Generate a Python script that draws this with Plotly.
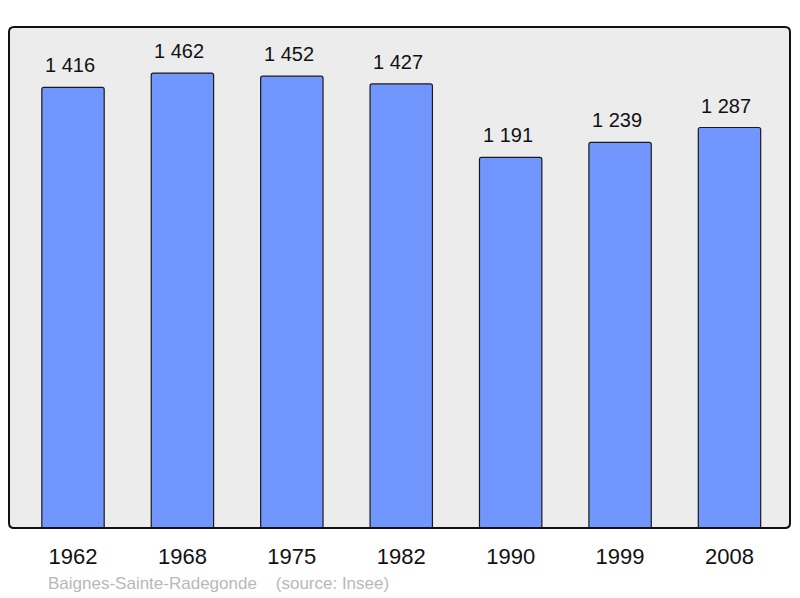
import plotly.graph_objects as go

years = ["1962", "1968", "1975", "1982", "1990", "1999", "2008"]
population = [1416, 1462, 1452, 1427, 1191, 1239, 1287]
labels = ["1 416", "1 462", "1 452", "1 427", "1 191", "1 239", "1 287"]
source_text = "Baignes-Sainte-Radegonde    (source: Insee)"

W, H = 800, 598
L, R, T, B = 9, 10, 27, 70
PW, PH = W - L - R, H - T - B
xpos = list(range(len(years)))

fig = go.Figure()
fig.add_trace(go.Bar(
    x=xpos, y=population, width=0.57,
    marker=dict(color="#7197ff", line=dict(color="#1a1a1a", width=1.2), cornerradius=2),
    hoverinfo="skip",
))
for xi, v, t in zip(xpos, population, labels):
    fig.add_annotation(x=xi, y=v, text=t, showarrow=False, yanchor="bottom",
                       yshift=9, xshift=-3, font=dict(size=20, color="#111111"))

fig.add_annotation(xref="paper", yref="paper", x=(46 - L) / PW, y=-(583 - (H - B)) / PH,
                   xanchor="left", yanchor="middle", text=source_text, showarrow=False,
                   font=dict(size=17, color="#b8b8b8"))

# rounded frame around plot area
rx, ry = 5 / PW, 5 / PH
path = (f"M {rx},0 L {1-rx},0 Q 1,0 1,{ry} L 1,{1-ry} Q 1,1 {1-rx},1 "
        f"L {rx},1 Q 0,1 0,{1-ry} L 0,{ry} Q 0,0 {rx},0 Z")
fig.add_shape(type="path", xref="paper", yref="paper", path=path,
              line=dict(color="#111111", width=2), layer="above")

fig.update_layout(
    width=W, height=H,
    margin=dict(l=L, r=R, t=T, b=B),
    paper_bgcolor="white", plot_bgcolor="#ececec",
    font=dict(family="Liberation Sans, Arial, sans-serif"),
    showlegend=False,
    xaxis=dict(range=[-0.585, 6.553], tickmode="array", tickvals=xpos, ticktext=years,
               showgrid=False, zeroline=False, ticks="outside", ticklen=9,
               tickcolor="rgba(0,0,0,0)", tickfont=dict(size=22, color="#111111")),
    yaxis=dict(range=[0, 1610], visible=False, showgrid=False),
)
fig.write_html("out.html", config={"displayModeBar": False},
               post_script="document.body.style.margin='0';document.body.style.overflow='hidden';")
